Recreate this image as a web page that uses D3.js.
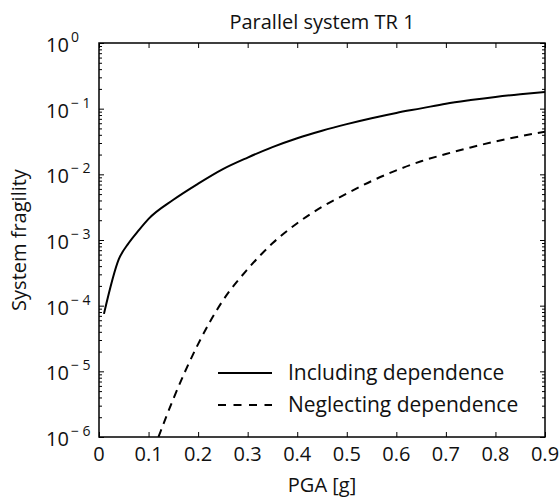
<!DOCTYPE html>
<html>
<head>
<meta charset="utf-8">
<script src="https://cdnjs.cloudflare.com/ajax/libs/d3/7.8.5/d3.min.js"></script>
<title>Parallel system TR 1</title>
<style>
  body{ margin: 0; background: #fff; }
  text{ font-family: "Open Sans", sans-serif; fill: #111; }
  .axis path{ display: none; }
  .axis line{ stroke: #000; stroke-width: 1; }
</style>
</head>
<body>
<script>
// PGA [g] and fragility
var pgaIncl  = [0.01, 0.04, 0.06, 0.08, 0.1, 0.15, 0.2, 0.25, 0.3, 0.35, 0.4, 0.45, 0.5, 0.55, 0.6, 0.65, 0.7, 0.75, 0.8, 0.85, 0.9],
    fragIncl = [7.5e-5, 5.1e-4, 9e-4, 1.4e-3, 2.1e-3, 4.1e-3, 7.2e-3, 0.012, 0.018, 0.026, 0.0355, 0.0462, 0.0582, 0.0716, 0.0861, 0.101, 0.119, 0.135, 0.151, 0.166, 0.18];
var pgaNegl  = [0.1, 0.12, 0.15, 0.2, 0.25, 0.3, 0.35, 0.4, 0.45, 0.5, 0.55, 0.6, 0.65, 0.7, 0.75, 0.8, 0.85, 0.9],
    fragNegl = [4e-7, 1e-6, 3.8e-6, 2.6e-5, 1.2e-4, 3.6e-4, 8.9e-4, 1.8e-3, 3.2e-3, 5.1e-3, 7.9e-3, 0.0115, 0.0158, 0.0204, 0.0257, 0.0316, 0.038, 0.0447];
var xTicks = [0, 0.1, 0.2, 0.3, 0.4, 0.5, 0.6, 0.7, 0.8, 0.9],
    yDecades = [0, -1, -2, -3, -4, -5, -6];
var legendLabels = ["Including dependence", "Neglecting dependence"];

var W = 559, H = 499,
    pl = 99, pr = 545, pt = 43, pb = 437;   // plot box

var svg = d3.select("body").append("svg")
    .attr("width", W)
    .attr("height", H);

var x = d3.scaleLinear().domain([0, 0.9]).range([pl, pr]);
var y = d3.scaleLog().domain([1e-6, 1]).range([pb, pt]);

svg.append("clipPath").attr("id", "plot")
  .append("rect")
    .attr("x", pl).attr("y", pt)
    .attr("width", pr - pl).attr("height", pb - pt);

// ticks, all pointing inwards
svg.append("g").attr("class", "axis")
    .attr("transform", "translate(0," + pb + ")")
    .call(d3.axisBottom(x).tickValues(xTicks).tickSize(-5).tickFormat(""));
svg.append("g").attr("class", "axis")
    .attr("transform", "translate(0," + pt + ")")
    .call(d3.axisTop(x).tickValues(xTicks).tickSize(-5).tickFormat(""));

var yAll = y.ticks();
function isDecade(v){ return Math.abs(Math.log10(v) - Math.round(Math.log10(v))) < 1e-9; }

svg.append("g").attr("class", "axis")
    .attr("transform", "translate(" + pl + ",0)")
    .call(d3.axisLeft(y).tickValues(yAll).tickSize(-3).tickFormat(""))
  .selectAll(".tick line")
    .attr("x2", function(d){ return isDecade(d) ? 5 : 3; });
svg.append("g").attr("class", "axis")
    .attr("transform", "translate(" + pr + ",0)")
    .call(d3.axisRight(y).tickValues(yAll).tickSize(-3).tickFormat(""))
  .selectAll(".tick line")
    .attr("x2", function(d){ return isDecade(d) ? -5 : -3; });

// frame
svg.append("rect")
    .attr("x", pl).attr("y", pt)
    .attr("width", pr - pl).attr("height", pb - pt)
    .attr("fill", "none")
    .attr("stroke", "#000")
    .attr("stroke-width", 1.5);

// x tick labels
svg.selectAll(".xlab")
  .data(xTicks)
  .enter().append("text")
    .attr("class", "xlab")
    .attr("x", function(d){ return x(d); })
    .attr("y", pb + 24)
    .attr("text-anchor", "middle")
    .style("font-size", "20px")
    .text(function(d){ return d === 0 ? "0" : d3.format(".1f")(d); });

// y tick labels 10^n
var ylab = svg.selectAll(".ylab")
  .data(yDecades)
  .enter().append("text")
    .attr("class", "ylab")
    .attr("x", 46)
    .attr("y", function(d){ return y(Math.pow(10, d)) + 9; })
    .style("font-size", "20px");
ylab.append("tspan").text("10");
ylab.append("tspan")
    .attr("dx", 2)
    .attr("dy", -10)
    .style("font-size", "14px")
    .text(function(d){ return d === 0 ? "0" : "\u2212 " + (-d); });

// curves
var line = d3.line()
    .x(function(d){ return x(d[0]); })
    .y(function(d){ return y(d[1]); })
    .curve(d3.curveMonotoneX);

svg.append("path")
    .datum(d3.zip(pgaIncl, fragIncl))
    .attr("clip-path", "url(#plot)")
    .attr("d", line)
    .attr("fill", "none")
    .attr("stroke", "#000")
    .attr("stroke-width", 2);

svg.append("path")
    .datum(d3.zip(pgaNegl, fragNegl))
    .attr("clip-path", "url(#plot)")
    .attr("d", line)
    .attr("fill", "none")
    .attr("stroke", "#000")
    .attr("stroke-width", 2)
    .attr("stroke-dasharray", "8,6");

// legend
var leg = svg.selectAll(".leg")
  .data(legendLabels)
  .enter().append("g")
    .attr("class", "leg")
    .attr("transform", function(d, i){ return "translate(218," + (373 + i*32) + ")"; });
leg.append("line")
    .attr("x1", 0).attr("x2", 54)
    .attr("stroke", "#000")
    .attr("stroke-width", 2)
    .attr("stroke-dasharray", function(d, i){ return i ? "8,7.5" : null; });
leg.append("text")
    .attr("x", 70)
    .attr("y", 7)
    .style("font-size", "21px")
    .text(function(d){ return d; });

// title and axis labels
svg.append("text")
    .attr("x", (pl + pr)/2)
    .attr("y", 29)
    .attr("text-anchor", "middle")
    .style("font-size", "20px")
    .text("Parallel system TR 1");

svg.append("text")
    .attr("x", (pl + pr)/2)
    .attr("y", 492)
    .attr("text-anchor", "middle")
    .style("font-size", "20px")
    .text("PGA [g]");

svg.append("text")
    .attr("transform", "translate(26," + (pb + pt)/2 + ") rotate(-90)")
    .attr("text-anchor", "middle")
    .style("font-size", "20px")
    .text("System fragility");
</script>
</body>
</html>
